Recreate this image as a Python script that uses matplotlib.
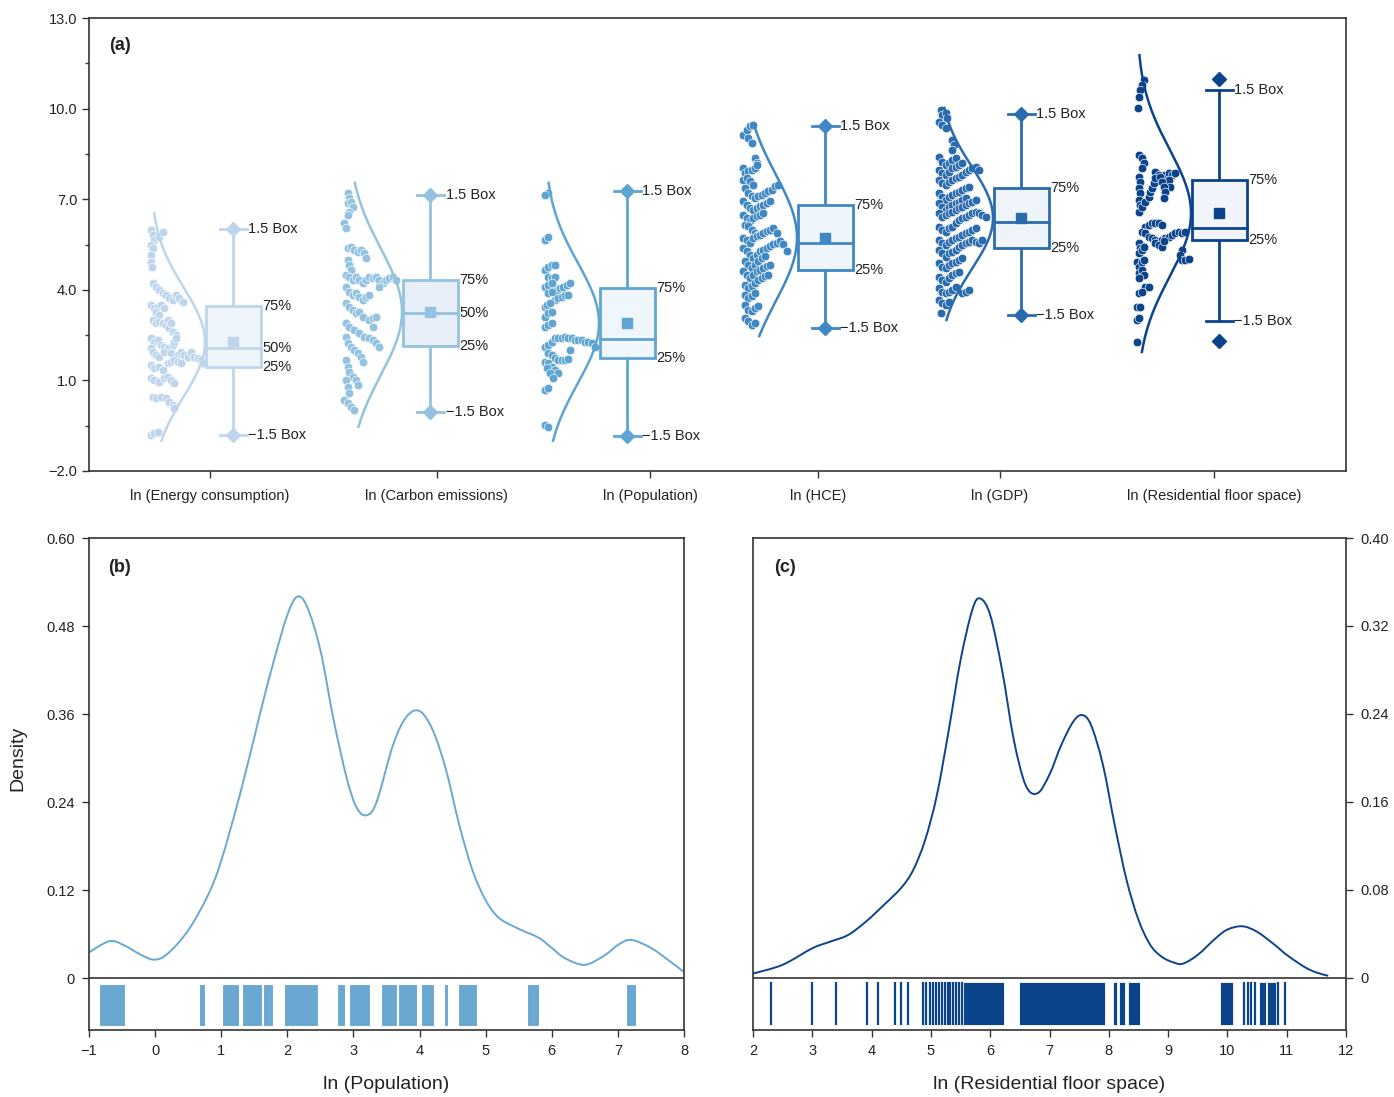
import numpy as np
import matplotlib.pyplot as plt
from matplotlib.patches import Rectangle, PathPatch
from matplotlib.path import Path

plt.rcParams['font.family'] = ['Liberation Sans', 'DejaVu Sans']
plt.rcParams['axes.unicode_minus'] = True

# ---------------- panel (a): box + points + normal curve ----------------
names = ["ln (Energy consumption)", "ln (Carbon emissions)", "ln (Population)",
         "ln (HCE)", "ln (GDP)", "ln (Residential floor space)"]
colors = ["#bed6ec", "#93c3e0", "#5ea5d2", "#3f88c3", "#2a6bae", "#0c448c"]
fills = ["#eef5fb", "#e8eff9", "#f0f7fc", "#eef5fb", "#eef4fa", "#f1f5fb"]

whisk_hi = [6.01, 7.14, 7.27, 9.42, 9.82, 10.62]
q75 = [3.46, 4.32, 4.06, 6.81, 7.37, 7.64]
q50 = [2.07, 3.23, 2.37, 5.55, 6.25, 6.05]
q25 = [1.44, 2.14, 1.74, 4.66, 5.38, 5.65]
whisk_lo = [-0.81, -0.05, -0.84, 2.74, 3.17, 2.97]
means = [2.27, 3.27, 2.90, 5.72, 6.38, 6.54]
sds = [1.8, 2.1, 2.0, 2.1, 1.7, 2.1]
data_min = [-1.0, -0.54, -1.0, 2.47, 3.0, 1.94]
data_max = [6.54, 7.54, 7.54, 9.52, 10.02, 11.77]
outliers = [[], [], [], [], [], [2.30, 10.98]]
show_median_label = [True, True, False, False, False, False]
cap_marker = [True, True, True, True, True, False]

# raw observations (value, horizontal jitter)
energy_y = [5.98, 5.81, 5.65, 5.76, 5.92, 5.48, 5.37, 5.15, 4.93, 4.77,
            4.21, 4.10, 3.99, 3.88, 3.83, 3.72, 3.66, 3.83, 3.72, 3.61,
            3.50, 3.39, 3.44, 3.50, 3.39, 3.28, 3.17,
            3.00, 2.89, 2.94, 2.89, 2.83, 2.72, 2.61, 2.50, 3.00, 2.89,
            2.39, 2.28, 2.34, 2.17, 2.12, 2.06, 2.17, 2.28, 2.39,
            2.06, 1.95, 1.84, 1.78, 1.95, 1.90, 1.84, 1.95, 1.84, 1.78, 1.95, 1.78, 1.73, 1.68, 1.57,
            1.51, 1.40, 1.46, 1.34, 1.57, 1.62, 1.68, 1.62, 1.57,
            1.07, 1.01, 0.96, 1.07, 1.12, 1.01, 0.90,
            0.46, 0.41, 0.46, 0.41, 0.30, 0.19, 0.07,
            -0.81, -0.75, -0.70]
energy_off = [0, 1.7, 3.3, 8.3, 11.7, 0, 1.7, 0, 0, 0.7,
              1.7, 5, 8.3, 11.7, 15, 18.3, 21.7, 25, 28.3, 31.7,
              0, 3.3, 6.7, 10, 13.3, 5, 8.3,
              1.7, 5, 8.3, 11.7, 15, 18.3, 21.7, 25, 16.7, 20,
              0, 3.3, 6.7, 10, 13.3, 16.7, 21.7, 23.3, 25,
              0, 1.7, 5, 8.3, 13.3, 20, 26.7, 30, 33.3, 36.7, 40, 43.3, 46.7, 50, 51.7,
              0, 3.3, 8.3, 11.7, 16.7, 20, 23.3, 26.7, 30,
              0, 3.3, 8.3, 13.3, 16.7, 20, 23.3,
              1.7, 5, 10, 15, 18.3, 21.7, 23.3,
              0, 3.3, 6.7]

carbon_y = [7.19, 7.03, 6.86, 6.92, 6.75, 6.59, 6.48, 6.20, 6.04,
            5.37, 5.43, 5.32, 5.26, 5.32, 5.21, 5.04, 4.99, 4.82, 4.66,
            4.49, 4.43, 4.33, 4.43, 4.33, 4.21, 4.33, 4.43, 4.38, 4.43, 4.33, 4.21, 4.33, 4.38, 4.43, 4.33, 4.10,
            4.10, 3.94, 3.83, 3.88, 3.77, 3.66, 3.77, 3.83,
            3.55, 3.44, 3.33, 3.22, 3.28, 3.11, 3.00, 3.06, 3.11, 2.78,
            2.89, 2.78, 2.67, 2.56, 2.45, 2.39, 2.34, 2.23, 2.12,
            2.45, 2.23, 2.12, 2.01, 1.90, 1.79, 1.62,
            1.68, 1.45, 1.29, 1.12, 1.01, 0.85,
            1.01, 0.79, 0.57,
            0.35, 0.24, 0.13, 0.02]
carbon_off = [-0.3, 1.3, -0.3, 3, 4.7, 1.3, -0.3, -3.7, -2,
              -0.3, 3, 6.3, 9.7, 13, 16.3, 18, -0.3, 1.3, 3,
              -2, 1.3, 4.7, 8, 11.3, 14.7, 18, 21.3, 24.7, 28, 31.3, 34.7, 38, 41.3, 44.7, 48, 31.3,
              -2, 1.3, 4.7, 8, 11.3, 14.7, 18, 21.3,
              -2, 1.3, 4.7, 8, 11.3, 14.7, 21.3, 24.7, 28, 24.7,
              -2, 1.3, 6.3, 11.3, 16.3, 21.3, 24.7, 28, 31.3,
              -2, -0.3, 3, 6.3, 9.7, 13, 14.7,
              -2, -0.3, 1.3, 4.7, 8, 9.7,
              -2, -0.3, 1.3,
              -3.7, -0.3, 3, 6.3]

pop_y = [7.19, 7.14, 5.65, 5.76, 4.66, 4.77, 4.82, 4.82, 4.43, 4.38, 4.43,
         4.10, 4.16, 4.21, 3.99, 4.05, 4.10, 4.16, 4.21, 3.88, 3.94,
         3.66, 3.72, 3.77, 3.83, 3.83, 3.44, 3.50, 3.55, 3.11, 3.22, 3.28,
         2.78, 2.84, 2.89,
         2.12, 2.17, 2.28, 2.39, 2.39, 2.39, 2.45, 2.39, 2.39, 2.34, 2.34, 2.34, 2.28, 2.28, 2.23, 2.12,
         1.90, 1.84, 1.73, 1.68, 1.68, 1.68, 1.70, 2.01,
         1.62, 1.57, 1.45, 1.34, 1.23, 1.40, 1.23, 1.07,
         0.68, 0.74, -0.48, -0.53]
pop_off = [3.3, 0, 0, 3.3, 0, 3.3, 6.7, 10, 3.3, 6.7, 10,
           0, 3.3, 6.7, 11.7, 15, 18.3, 21.7, 25, 3.3, 6.7,
           10, 13.3, 16.7, 20, 23.3, 0, 1.7, 5, 0, 3.3, 6.7,
           0, 3.3, 6.7,
           0, 3.3, 6.7, 10, 13.3, 16.7, 20, 23.3, 26.7, 30, 33.3, 36.7, 40, 43.3, 46.7, 50,
           3.3, 6.7, 10, 13.3, 16.7, 20, 23.3, 25,
           0, 3.3, 6.7, 10, 13.3, 1.7, 5, 8.3,
           0, 3.3, 0, 3.3]

hce_y = [9.14, 9.30, 9.41, 9.47, 9.03, 8.86, 8.36, 8.20,
         8.03, 7.87, 7.92, 7.98, 8.03, 8.14, 7.65, 7.70, 7.59, 7.48,
         7.37, 7.21, 7.10, 7.04, 7.10, 7.15, 7.21, 7.26, 7.32, 7.43, 7.48,
         6.93, 6.82, 6.71, 6.65, 6.71, 6.76, 6.82, 6.87, 6.93,
         6.49, 6.38, 6.27, 6.38, 6.43, 6.49, 6.54,
         6.16, 6.10, 5.99, 5.88, 5.83,
         5.72, 5.66, 5.55, 5.72, 5.77, 5.83, 5.88, 5.94, 5.99, 6.05, 5.88,
         5.38, 5.27, 5.16, 5.05, 5.16, 5.27, 5.33, 5.38, 5.44, 5.52, 5.55, 5.61, 5.52, 5.27,
         4.94, 4.83, 4.72, 4.83, 4.94, 5.05, 5.11,
         4.61, 4.50, 4.39, 4.50, 4.61, 4.67, 4.72, 4.78, 4.83,
         4.17, 4.06, 4.11, 4.23, 4.34, 4.39, 4.45, 4.50,
         3.84, 3.73, 3.78, 3.89, 3.51, 3.34, 3.29, 3.40, 3.45,
         3.07, 2.96, 2.85, 2.90]
hce_off = [0.3, 3.7, 7, 10.3, 5.3, 8.7, 12, 13.7,
           0.3, 2, 5.3, 8.7, 12, 13.7, 0.3, 3.7, 7, 10.3,
           2, 5.3, 8.7, 12, 15.3, 18.7, 22, 25.3, 28.7, 32, 35.3,
           0.3, 3.7, 7, 10.3, 13.7, 17, 20.3, 23.7, 27,
           0.3, 3.7, 7, 10.3, 13.7, 17, 20.3,
           2, 5.3, 8.7, 12, 15.3,
           0.3, 3.7, 7, 10.3, 13.7, 17, 20.3, 23.7, 27, 30.3, 33.7,
           0.3, 3.7, 7, 10.3, 13.7, 17, 20.3, 23.7, 27, 30.3, 33.7, 37, 40.3, 43.7,
           2, 5.3, 8.7, 12, 15.3, 18.7, 22,
           0.3, 3.7, 7, 10.3, 13.7, 17, 20.3, 23.7, 27,
           2, 5.3, 8.7, 12, 15.3, 18.7, 22, 25.3,
           2, 5.3, 8.7, 12, 2, 5.3, 8.7, 12, 15.3,
           2, 5.3, 8.7, 12]

gdp_y = [9.95, 9.79, 9.84, 9.68, 9.57, 9.46, 9.35, 8.96, 8.80, 8.63,
         8.41, 8.24, 8.13, 8.19, 8.30, 8.35,
         7.97, 7.86, 7.80, 7.91, 8.02, 8.08, 8.13, 8.19,
         7.64, 7.53, 7.47, 7.58, 7.64, 7.69, 7.75, 7.80, 7.91, 7.97, 8.02, 8.08, 7.97,
         7.19, 7.08, 6.97, 7.08, 7.14, 7.19, 7.25, 7.30, 7.36, 7.42,
         6.86, 6.75, 6.64, 6.75, 6.81, 6.86, 6.92, 6.97, 7.03,
         6.53, 6.42, 6.48, 6.53, 6.59, 6.64, 6.70, 6.75, 6.81, 6.86, 6.92, 6.97,
         6.09, 5.98, 5.92, 6.04, 6.09, 6.20, 6.31, 6.37, 6.42, 6.48, 6.53, 6.59, 6.53, 6.48, 6.42,
         5.65, 5.54, 5.48, 5.59, 5.65, 5.70, 5.76, 5.81, 5.87, 5.92, 5.98, 6.04,
         5.32, 5.21, 5.10, 5.21, 5.26, 5.32, 5.43, 5.48, 5.54, 5.59, 5.65, 5.59, 5.54, 5.65,
         4.88, 4.77, 4.71, 4.82, 4.88, 4.93, 4.99, 5.04,
         4.44, 4.33, 4.27, 4.38, 4.49, 4.55, 4.60,
         4.05, 3.94, 3.88, 3.94, 3.99, 4.10, 3.88, 3.94, 3.99,
         3.66, 3.55, 3.50, 3.61, 3.22]
gdp_off = [1.7, 3.3, 6.7, 8.3, 0, 3.3, 6.7, 13.3, 15, 13.3,
           0, 3.3, 6.7, 10, 13.3, 16.7,
           0, 3.3, 6.7, 10, 13.3, 16.7, 20, 23.3,
           0, 3.3, 6.7, 10, 13.3, 16.7, 20, 23.3, 26.7, 30, 33.3, 36.7, 40,
           0, 3.3, 6.7, 10, 13.3, 16.7, 20, 23.3, 26.7, 30,
           0, 3.3, 6.7, 10, 13.3, 16.7, 20, 23.3, 26.7,
           0, 3.3, 6.7, 10, 13.3, 16.7, 20, 23.3, 26.7, 30, 33.3, 36.7,
           0, 3.3, 6.7, 10, 13.3, 16.7, 20, 23.3, 26.7, 30, 33.3, 36.7, 40, 43.3, 46.7,
           0, 3.3, 6.7, 10, 13.3, 16.7, 20, 23.3, 26.7, 30, 33.3, 36.7,
           0, 3.3, 6.7, 10, 13.3, 16.7, 20, 23.3, 26.7, 30, 33.3, 36.7, 40, 43.3,
           0, 3.3, 6.7, 10, 13.3, 16.7, 20, 23.3,
           0, 3.3, 6.7, 10, 13.3, 16.7, 20,
           0, 3.3, 6.7, 10, 13.3, 16.7, 23.3, 26.7, 30,
           0, 3.3, 6.7, 10, 1.7]

floor_y = [10.95, 10.78, 10.62, 10.40, 10.01, 8.46, 8.35, 8.19, 8.02,
           7.91, 7.80, 7.75, 7.80, 7.86, 7.80, 7.86, 7.64, 7.41,
           7.75, 7.58, 7.36, 7.20, 6.97, 6.81, 6.59, 6.75, 6.92, 7.08, 7.25, 7.36, 7.53, 7.69,
           7.75, 7.58, 7.41, 7.25, 7.03,
           6.09, 6.15, 6.20, 6.22, 6.20, 6.15,
           5.93, 5.87, 5.76, 5.70, 5.65, 5.60, 5.65, 5.70, 5.76, 5.81, 5.87, 5.93, 5.89, 5.93,
           5.54, 5.37, 5.21, 5.32, 5.43, 5.54, 5.48, 5.43, 5.60,
           5.32, 5.15, 4.99, 4.99, 5.01,
           4.93, 4.77, 4.93, 4.99, 4.55, 4.66, 4.49, 4.38,
           4.10, 4.10, 3.88, 3.94, 3.44, 3.44, 3.00, 3.06, 2.28]
floor_off = [6.7, 5, 3.3, 1.7, 1, 1.7, 5, 6.7, 5,
             18.3, 21.7, 25, 28.3, 31.7, 35, 38.3, 31.7, 33.3,
             1.7, 3.3, 1.7, 3.3, 1.7, 3.3, 1.7, 5, 8.3, 11.7, 13.3, 15, 16.7, 18.3,
             23.3, 25, 26.7, 28.3, 26.7,
             8.3, 11.7, 15, 18.3, 21.7, 25,
             5, 8.3, 11.7, 15, 18.3, 21.7, 25, 28.3, 31.7, 35, 38.3, 41.7, 45, 48.3,
             1.7, 3.3, 1.7, 5, 6.7, 18.3, 21.7, 25, 26.7,
             45, 43.3, 45, 48.3, 51.7,
             0, 1.7, 5, 6.7, 1.7, 5, 6.7, 1.7,
             8.3, 11.7, 1.7, 5, 0, 3.3, 0, 1.7, 0]

pts_y = [energy_y, carbon_y, pop_y, hce_y, gdp_y, floor_y]
pts_off = [energy_off, carbon_off, pop_off, hce_off, gdp_off, floor_off]

# ---------------- panel (b): ln (Population) density ----------------
pop_grid = [-1.0, -0.7, -0.5, -0.2, 0.0, 0.2, 0.5, 0.8, 1.0, 1.3, 1.6, 1.8, 2.0,
            2.15, 2.3, 2.5, 2.7, 2.9, 3.05, 3.2, 3.35, 3.6, 3.8, 4.0, 4.2, 4.4, 4.6,
            4.8, 5.0, 5.2, 5.5, 5.8, 6.0, 6.2, 6.5, 6.8, 7.0, 7.2, 7.5, 7.8, 8.0]
pop_density = [0.035, 0.050, 0.046, 0.031, 0.025, 0.034, 0.065, 0.113, 0.160, 0.256,
               0.365, 0.434, 0.495, 0.520, 0.506, 0.447, 0.352, 0.272, 0.232, 0.222,
               0.240, 0.318, 0.356, 0.364, 0.338, 0.284, 0.209, 0.147, 0.106, 0.082,
               0.067, 0.055, 0.041, 0.027, 0.018, 0.031, 0.045, 0.052, 0.041, 0.022, 0.008]
pop_rug = [(-0.85, -0.46), (0.67, 0.75), (1.01, 1.27), (1.32, 1.62), (1.63, 1.78),
           (1.955, 2.457), (2.75, 2.87), (2.935, 3.25), (3.41, 3.66), (3.68, 3.96),
           (4.02, 4.22), (4.365, 4.437), (4.58, 4.873), (5.627, 5.806), (7.128, 7.27)]

# ---------------- panel (c): ln (Residential floor space) density ----------------
floor_grid = [2.0, 2.5, 3.0, 3.3, 3.6, 3.9, 4.2, 4.5, 4.7, 4.9, 5.1, 5.3, 5.5, 5.7,
              5.83, 6.0, 6.2, 6.4, 6.6, 6.8, 7.0, 7.2, 7.4, 7.55, 7.7, 7.9, 8.1, 8.3,
              8.5, 8.7, 8.9, 9.1, 9.25, 9.5, 9.8, 10.0, 10.25, 10.5, 10.8, 11.0, 11.3,
              11.5, 11.7]
floor_density = [0.004, 0.012, 0.027, 0.033, 0.039, 0.051, 0.066, 0.082, 0.098, 0.125,
                 0.166, 0.225, 0.289, 0.335, 0.345, 0.330, 0.280, 0.216, 0.175, 0.168,
                 0.185, 0.212, 0.233, 0.239, 0.230, 0.194, 0.139, 0.089, 0.053, 0.030,
                 0.019, 0.014, 0.013, 0.021, 0.036, 0.044, 0.047, 0.042, 0.030, 0.021,
                 0.010, 0.005, 0.002]
floor_rug_lines = [2.30, 2.99, 3.40, 3.92, 4.10, 4.39, 4.50, 4.61, 4.86, 4.92, 4.98,
                   5.03, 5.09, 5.13, 5.18, 5.23, 5.28, 5.33, 5.37, 5.42, 5.47, 5.52,
                   10.28, 10.34, 10.39, 10.47, 10.85, 10.97]
floor_rug_spans = [(5.54, 6.23), (6.49, 7.93), (8.07, 8.14), (8.17, 8.28), (8.32, 8.53),
                   (9.88, 10.09), (10.54, 10.65), (10.67, 10.82)]


def smooth_path(xs, ys):
    # Catmull-Rom through the measured points, as cubic Bezier segments
    p = np.column_stack([xs, ys])
    verts = [p[0]]
    codes = [Path.MOVETO]
    for k in range(len(p) - 1):
        p0 = p[k - 1] if k > 0 else p[k]
        p3 = p[k + 2] if k + 2 < len(p) else p[k + 1]
        c1 = p[k] + (p[k + 1] - p0) / 6.0
        c2 = p[k + 1] - (p3 - p[k]) / 6.0
        verts += [c1, c2, p[k + 1]]
        codes += [Path.CURVE4] * 3
    return Path(verts, codes)


W, H = 1394, 1097
fig = plt.figure(figsize=(W / 100, H / 100), dpi=100)
spine_col = "#333333"
txt_col = "#222222"

# ---- (a) ----
ax = fig.add_axes([89 / W, 1 - 471 / H, 1257 / W, 453 / H])
box_x = [144, 341, 538, 736, 932, 1130]
tick_x = [120.5, 347.5, 561, 729, 911, 1125]
half_box = 27.5
cap = 13.5
gap = 82
amp = 54

for i in range(6):
    c = colors[i]
    x0 = box_x[i]
    base = x0 - gap
    ax.plot(base + np.array(pts_off[i]), pts_y[i], 'o', ms=6.2, mfc=c, mec='white',
            mew=0.45, ls='none', zorder=2)
    yy = np.linspace(data_min[i], data_max[i], 300)
    ax.plot(base + amp * np.exp(-0.5 * ((yy - means[i]) / sds[i]) ** 2), yy,
            color=c, lw=1.8, zorder=3)
    # whiskers
    ax.plot([x0, x0], [q75[i], whisk_hi[i]], color=c, lw=2, zorder=3)
    ax.plot([x0, x0], [q25[i], whisk_lo[i]], color=c, lw=2, zorder=3)
    for w in (whisk_hi[i], whisk_lo[i]):
        ax.plot([x0 - cap, x0 + cap], [w, w], color=c, lw=2, zorder=3)
        if cap_marker[i]:
            ax.plot(x0, w, 'D', ms=7, color=c, zorder=4)
    if outliers[i]:
        ax.plot([x0] * len(outliers[i]), outliers[i], 'D', ms=7.5, color=c, ls='none', zorder=4)
    # box
    ax.add_patch(Rectangle((x0 - half_box, q25[i]), 2 * half_box, q75[i] - q25[i],
                           fc=fills[i], ec=c, lw=2, zorder=3))
    ax.plot([x0 - half_box, x0 + half_box], [q50[i], q50[i]], color=c, lw=2, zorder=4)
    ax.plot(x0, means[i], 's', ms=6.5, color=c, zorder=4)
    # labels
    fs = 10.5
    ax.text(x0 + cap + 2, whisk_hi[i], "1.5 Box", ha='left', va='center', fontsize=fs, color=txt_col)
    ax.text(x0 + cap + 2, whisk_lo[i], "\u22121.5 Box", ha='left', va='center', fontsize=fs, color=txt_col)
    ax.text(x0 + half_box + 2, q75[i], "75%", ha='left', va='center', fontsize=fs, color=txt_col)
    ax.text(x0 + half_box + 2, q25[i], "25%", ha='left', va='center', fontsize=fs, color=txt_col)
    if show_median_label[i]:
        ax.text(x0 + half_box + 2, q50[i], "50%", ha='left', va='center', fontsize=fs, color=txt_col)

ax.set_xlim(0, 1257)
ax.set_ylim(-2, 13)
ax.set_yticks([-2, 1, 4, 7, 10, 13])
ax.set_yticklabels(["\u22122.0", "1.0", "4.0", "7.0", "10.0", "13.0"])
ax.set_yticks([-0.5, 2.5, 5.5, 8.5, 11.5], minor=True)
ax.set_xticks(tick_x)
ax.set_xticklabels(names)
ax.tick_params(axis='both', direction='out', length=5, width=1, colors=spine_col,
               labelcolor=txt_col, labelsize=10.5)
ax.tick_params(axis='y', which='minor', length=3, width=1, colors=spine_col)
ax.tick_params(axis='x', pad=8)
for s in ax.spines.values():
    s.set_color(spine_col)
    s.set_linewidth(1.2)
ax.text(0.016, 0.94, "(a)", transform=ax.transAxes, fontsize=13, fontweight='bold',
        color=txt_col, ha='left', va='center')

# ---- (b) ----
bcol = "#6aa8d2"
axb = fig.add_axes([89 / W, 1 - 1030 / H, 595 / W, 492 / H])
axb.add_patch(PathPatch(smooth_path(pop_grid, pop_density), fc='none', ec=bcol, lw=1.4))
axb.bar([a for a, b in pop_rug], [-0.0573] * len(pop_rug), width=[b - a for a, b in pop_rug],
        bottom=-0.0082, align='edge', color=bcol, edgecolor='white', linewidth=0.8)
axb.axhline(0, color=spine_col, lw=1.2)
axb.set_xlim(-1, 8)
axb.set_ylim(-0.0709, 0.6)
axb.set_xticks(range(-1, 9))
axb.set_xticklabels(["\u22121"] + [str(v) for v in range(0, 9)])
axb.set_yticks([0, 0.12, 0.24, 0.36, 0.48, 0.60])
axb.set_yticklabels(["0", "0.12", "0.24", "0.36", "0.48", "0.60"])
axb.tick_params(direction='out', length=5, width=1, colors=spine_col,
                labelcolor=txt_col, labelsize=10.5, pad=5)
axb.set_xlabel("ln (Population)", fontsize=14, color=txt_col, labelpad=13)
for s in axb.spines.values():
    s.set_color(spine_col)
    s.set_linewidth(1.2)
axb.text(0.032, 0.94, "(b)", transform=axb.transAxes, fontsize=13, fontweight='bold',
         color=txt_col, ha='left', va='center')
fig.text(18 / W, 1 - 758 / H, "Density", rotation=90, ha='center', va='center',
         fontsize=14, color=txt_col)

# ---- (c) ----
ccol = "#0c448c"
axc = fig.add_axes([753 / W, 1 - 1030 / H, 593 / W, 492 / H])
axc.add_patch(PathPatch(smooth_path(floor_grid, floor_density), fc='none', ec=ccol, lw=1.4))
axc.vlines(floor_rug_lines, -0.0427, -0.0036, color=ccol, lw=1.6)
axc.bar([a for a, b in floor_rug_spans], [-0.0391] * len(floor_rug_spans),
        width=[b - a for a, b in floor_rug_spans], bottom=-0.0036, align='edge',
        color=ccol, edgecolor='white', linewidth=0.6)
axc.axhline(0, color=spine_col, lw=1.2)
axc.set_xlim(2, 12)
axc.set_ylim(-0.0473, 0.40)
axc.set_xticks(range(2, 13))
axc.set_yticks([0, 0.08, 0.16, 0.24, 0.32, 0.40])
axc.set_yticklabels(["0", "0.08", "0.16", "0.24", "0.32", "0.40"])
axc.yaxis.tick_right()
axc.tick_params(direction='out', length=5, width=1, colors=spine_col,
                labelcolor=txt_col, labelsize=10.5, pad=5)
axc.set_xlabel("ln (Residential floor space)", fontsize=14, color=txt_col, labelpad=13)
for s in axc.spines.values():
    s.set_color(spine_col)
    s.set_linewidth(1.2)
axc.text(0.036, 0.94, "(c)", transform=axc.transAxes, fontsize=13, fontweight='bold',
         color=txt_col, ha='left', va='center')

fig.savefig("out.png", dpi=100)
